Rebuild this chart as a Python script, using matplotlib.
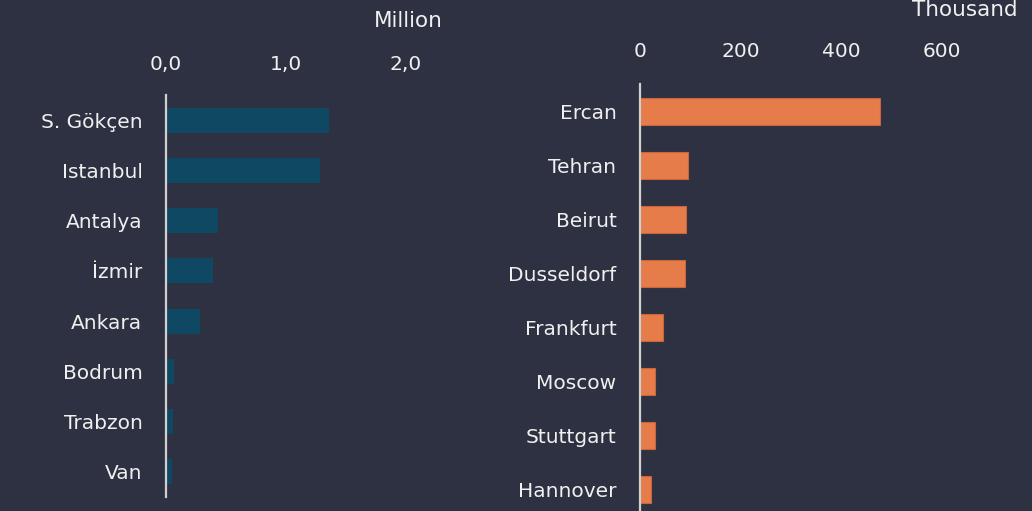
import matplotlib
matplotlib.use("Agg")
import matplotlib.pyplot as plt
import matplotlib.ticker as ticker

plt.rcParams['font.family'] = ['DejaVu Sans']

# domestic airports, passengers in million
tr_airports = ["S. Gökçen", "Istanbul", "Antalya", "İzmir", "Ankara", "Bodrum", "Trabzon", "Van"]
tr_values = [1.36, 1.28, 0.43, 0.39, 0.28, 0.07, 0.06, 0.05]

# foreign airports, passengers in thousand
intl_airports = ["Ercan", "Tehran", "Beirut", "Dusseldorf", "Frankfurt", "Moscow", "Stuttgart", "Hannover"]
intl_values = [477, 95, 91, 89, 46, 30, 30, 22]

bg = "#2e3142"
txt = "#f0f0f0"
blue = "#0f4862"
orange = "#e67c4a"

fig = plt.figure(figsize=(10.32, 5.11), dpi=100)
fig.patch.set_facecolor(bg)

ax1 = fig.add_axes([0.1609, 0.0274, 0.279, 0.7867])
ax2 = fig.add_axes([0.6202, -0.0117, 0.370, 0.847])


def style(ax, xpad):
    ax.set_facecolor(bg)
    for s in ["top", "right", "bottom"]:
        ax.spines[s].set_visible(False)
    ax.spines["left"].set_color("#d0d0d0")
    ax.spines["left"].set_linewidth(1.6)
    ax.xaxis.tick_top()
    ax.tick_params(axis="both", length=0, colors=txt, labelsize=14.5)
    ax.tick_params(axis="x", pad=xpad)
    ax.tick_params(axis="y", pad=17)


ax1.barh(tr_airports, tr_values, height=0.5, color=blue)
ax1.set_ylim(7.5, -0.5)
ax1.set_xlim(0, 2.4)
ax1.set_xticks([0, 1, 2])
ax1.xaxis.set_major_formatter(ticker.FuncFormatter(lambda x, pos: "{:.1f}".format(x).replace(".", ",")))
style(ax1, 15)

ax2.barh(intl_airports, intl_values, height=0.5, color=orange, edgecolor="#c8653a", linewidth=0.8)
ax2.set_ylim(7.5, -0.5)
ax2.set_xlim(0, 760)
ax2.set_xticks([0, 200, 400, 600])
style(ax2, 17)

fig.text(408 / 1032, 1 - 21 / 511, "Million", color=txt, fontsize=15.5, ha="center", va="center")
fig.text(965 / 1032, 1 - 10 / 511, "Thousand", color=txt, fontsize=15.5, ha="center", va="center")

plt.savefig("out.png", dpi=100, facecolor=bg)
